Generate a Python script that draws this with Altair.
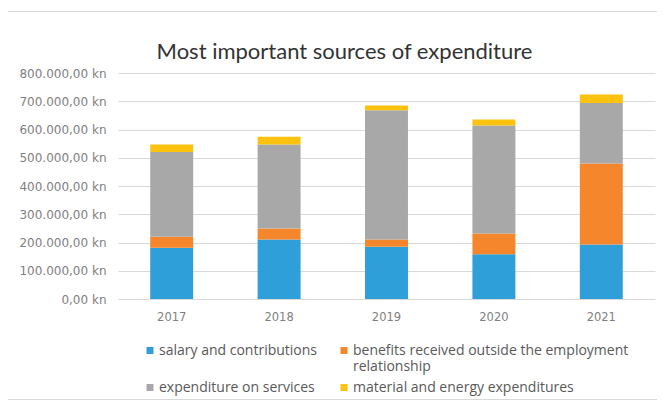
import altair as alt
import pandas as pd

years = ["2017", "2018", "2019", "2020", "2021"]
categories = [
    "salary and contributions",
    "benefits received outside the employment relationship",
    "expenditure  on services",
    "material and energy expenditures",
]
salary = [181000, 211000, 185000, 158000, 193000]
benefits = [39000, 39000, 26000, 74000, 287000]
services = [300000, 297000, 457000, 382000, 214000]
material = [27000, 27000, 17000, 21000, 30000]
colors = ["#2e9fd8", "#f5862c", "#a8a8a8", "#fcc20f"]
y_ticks = [0, 100000, 200000, 300000, 400000, 500000, 600000, 700000, 800000]

series = [salary, benefits, services, material]
rows = []
for ci, (cat, vals) in enumerate(zip(categories, series)):
    for y, v in zip(years, vals):
        rows.append({"year": y, "category": cat, "value": v, "order": ci})
df = pd.DataFrame(rows)

label_expr = ("replace(replace(replace(format(datum.value, ',.2f'), ',', '#'), '.', ','), '#', '.') + ' kn'")
legend_expr = ("datum.label == 'benefits received outside the employment relationship' ? "
               "['benefits received outside the employment', 'relationship'] : "
               "datum.label == 'salary and contributions' ? ['salary and contributions', ''] : "
               "datum.label")

bars = alt.Chart(df).mark_bar().encode(
    x=alt.X("year:N", sort=years, title=None,
            scale=alt.Scale(paddingInner=0.6, paddingOuter=0.3),
            axis=alt.Axis(labelAngle=0, domain=False, ticks=False, tickSize=0,
                          labelFont="DejaVu Sans", labelFontSize=11.5, labelColor="#7f7f7f",
                          labelPadding=12)),
    y=alt.Y("value:Q", stack="zero", title=None,
            scale=alt.Scale(domain=[0, 800000], nice=False),
            axis=alt.Axis(values=y_ticks, labelExpr=label_expr, domain=False, ticks=False,
                          tickSize=0, labelPadding=12, labelFont="DejaVu Sans",
                          labelFontSize=12, labelColor="#7f7f7f",
                          gridColor="#d9d9d9", gridWidth=1)),
    color=alt.Color("category:N", scale=alt.Scale(domain=categories, range=colors),
                    legend=alt.Legend(title=None, orient="none", legendX=25, legendY=264,
                                      direction="horizontal",
                                      columns=2, columnPadding=18, rowPadding=-10,
                                      symbolType="M-1,0.86H1V2.86H-1Z", symbolSize=49,
                                      symbolStrokeWidth=0, labelFont="Open Sans",
                                      labelFontSize=14,
                                      labelColor="#595959", labelBaseline="top",
                                      labelLimit=0, labelOffset=2, labelExpr=legend_expr,
                                      padding=0)),
    order=alt.Order("order:Q", sort="ascending"),
)

border = alt.Chart(pd.DataFrame({"b": [0]})).mark_rect(
    fillOpacity=0, stroke="#d9d9d9", strokeWidth=1
).encode(x=alt.value(-110.5), x2=alt.value(620), y=alt.value(-61.5), y2=alt.value(326.5))

chart = alt.layer(border, bars).properties(
    width=537, height=226,
    title=alt.TitleParams("Most important sources of expenditure", font="Lato", fontSize=22,
                          fontWeight="normal", color="#333333", anchor="middle",
                          frame="group", dx=-42, dy=70, offset=0, baseline="alphabetic"),
    autosize=alt.AutoSizeParams(type="none"),
    padding={"left": 110, "top": 65, "right": 2, "bottom": 102},
).configure_view(strokeWidth=0)

chart.save("out.html", embed_options={"renderer": "svg", "actions": False})
